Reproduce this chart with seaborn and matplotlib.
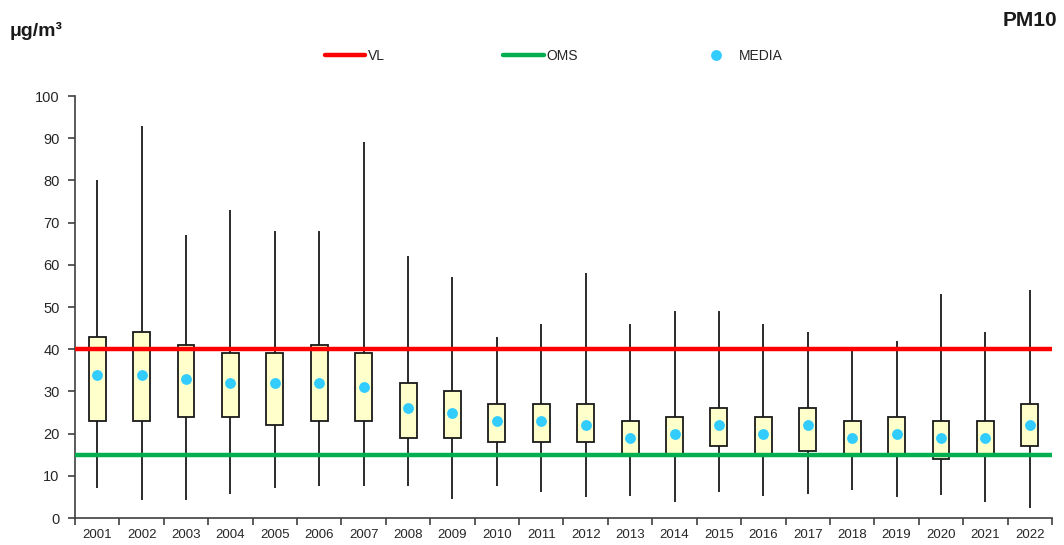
import matplotlib
matplotlib.use("Agg")
import matplotlib.pyplot as plt
import seaborn as sns
import pandas as pd
from matplotlib.lines import Line2D
from matplotlib.ticker import FixedLocator

# ---- data ----
years = [str(y) for y in range(2001, 2023)]
vmin = [7, 4.3, 4.3, 5.8, 7, 7.6, 7.6, 7.6, 4.5, 7.6, 6.2, 4.9, 5.2, 3.9, 6.2, 5.2, 5.8, 6.6, 4.9, 5.5, 3.9, 2.4]
q1 = [23, 23, 24, 24, 22, 23, 23, 19, 19, 18, 18, 18, 15, 15, 17, 15, 16, 15, 15, 14, 15, 17]
q3 = [43, 44, 41, 39, 39, 41, 39, 32, 30, 27, 27, 27, 23, 24, 26, 24, 26, 23, 24, 23, 23, 27]
vmax = [80, 93, 67, 73, 68, 68, 89, 62, 57, 43, 46, 58, 46, 49, 49, 46, 44, 40, 42, 53, 44, 54]
media = [34, 34, 33, 32, 32, 32, 31, 26, 25, 23, 23, 22, 19, 20, 22, 20, 22, 19, 20, 19, 19, 22]
VL = 40
OMS = 15
yticks = list(range(0, 101, 10))

# long-form table whose quartiles/extremes reproduce the summary values
rows = []
for y, a, b, c, d in zip(years, vmin, q1, q3, vmax):
    for v in (a, b, b, c, c, d):
        rows.append({"anno": y, "val": v})
df = pd.DataFrame(rows)
dm = pd.DataFrame({"anno": years, "media": media})

sns.set_style("white")
plt.rcParams["font.family"] = ["Liberation Sans", "DejaVu Sans"]

fig = plt.figure(figsize=(10.64, 5.45), dpi=100)
ax = fig.add_axes([0.0705, 0.0495, 0.9182, 0.7743])

sns.boxplot(data=df, x="anno", y="val", order=years, ax=ax, whis=(0, 100),
            width=0.38, color="#FFFFCC", saturation=1, linecolor="#1a1a1a",
            linewidth=1.3, showcaps=False, showfliers=False,
            medianprops={"linewidth": 0})

ax.axhline(VL, color="#FF0000", lw=3.2, zorder=3)
ax.axhline(OMS, color="#00B050", lw=3.2, zorder=3)

sns.stripplot(data=dm, x="anno", y="media", order=years, ax=ax, jitter=False,
              color="#33CCFF", size=7.8, linewidth=0, zorder=5)

ax.set_xlim(-0.5, len(years) - 0.5)
ax.set_ylim(0, 100)
ax.set_yticks(yticks)
ax.set_xlabel("")
ax.set_ylabel("")

for s in ("top", "right"):
    ax.spines[s].set_visible(False)
for s in ("left", "bottom"):
    ax.spines[s].set_color("#404040")
    ax.spines[s].set_linewidth(1.2)

ax.tick_params(axis="y", length=5, width=1.2, color="#404040", direction="out",
               labelsize=10.5, labelcolor="#262626", pad=6, left=True)
ax.tick_params(axis="x", which="major", length=0, labelsize=9.5,
               labelcolor="#262626", pad=8)
ax.xaxis.set_minor_locator(FixedLocator([i - 0.5 for i in range(len(years) + 1)]))
ax.tick_params(axis="x", which="minor", length=5, width=1.2, color="#404040",
               direction="out", bottom=True)

fig.text(10 / 1064, 1 - 31 / 545, "μg/m³", fontsize=14, fontweight="bold",
         ha="left", va="center", color="#1a1a1a")
fig.text(1057 / 1064, 1 - 21 / 545, "PM10", fontsize=15, fontweight="bold",
         ha="right", va="center", color="#1a1a1a")

handles = [
    Line2D([], [], color="#FF0000", lw=3.2),
    Line2D([], [], color="#00B050", lw=3.2),
    Line2D([], [], color="#33CCFF", marker="o", linestyle="none",
           markersize=7.8, markeredgewidth=0),
]
fig.legend(handles, ["VL", "OMS", "MEDIA"], loc="center",
           bbox_to_anchor=(554 / 1064, 1 - 56 / 545), ncol=3, frameon=False,
           fontsize=10, handlelength=2.9, handletextpad=0.2,
           columnspacing=8.5, labelcolor="#262626")

fig.savefig("out.png", dpi=100)
